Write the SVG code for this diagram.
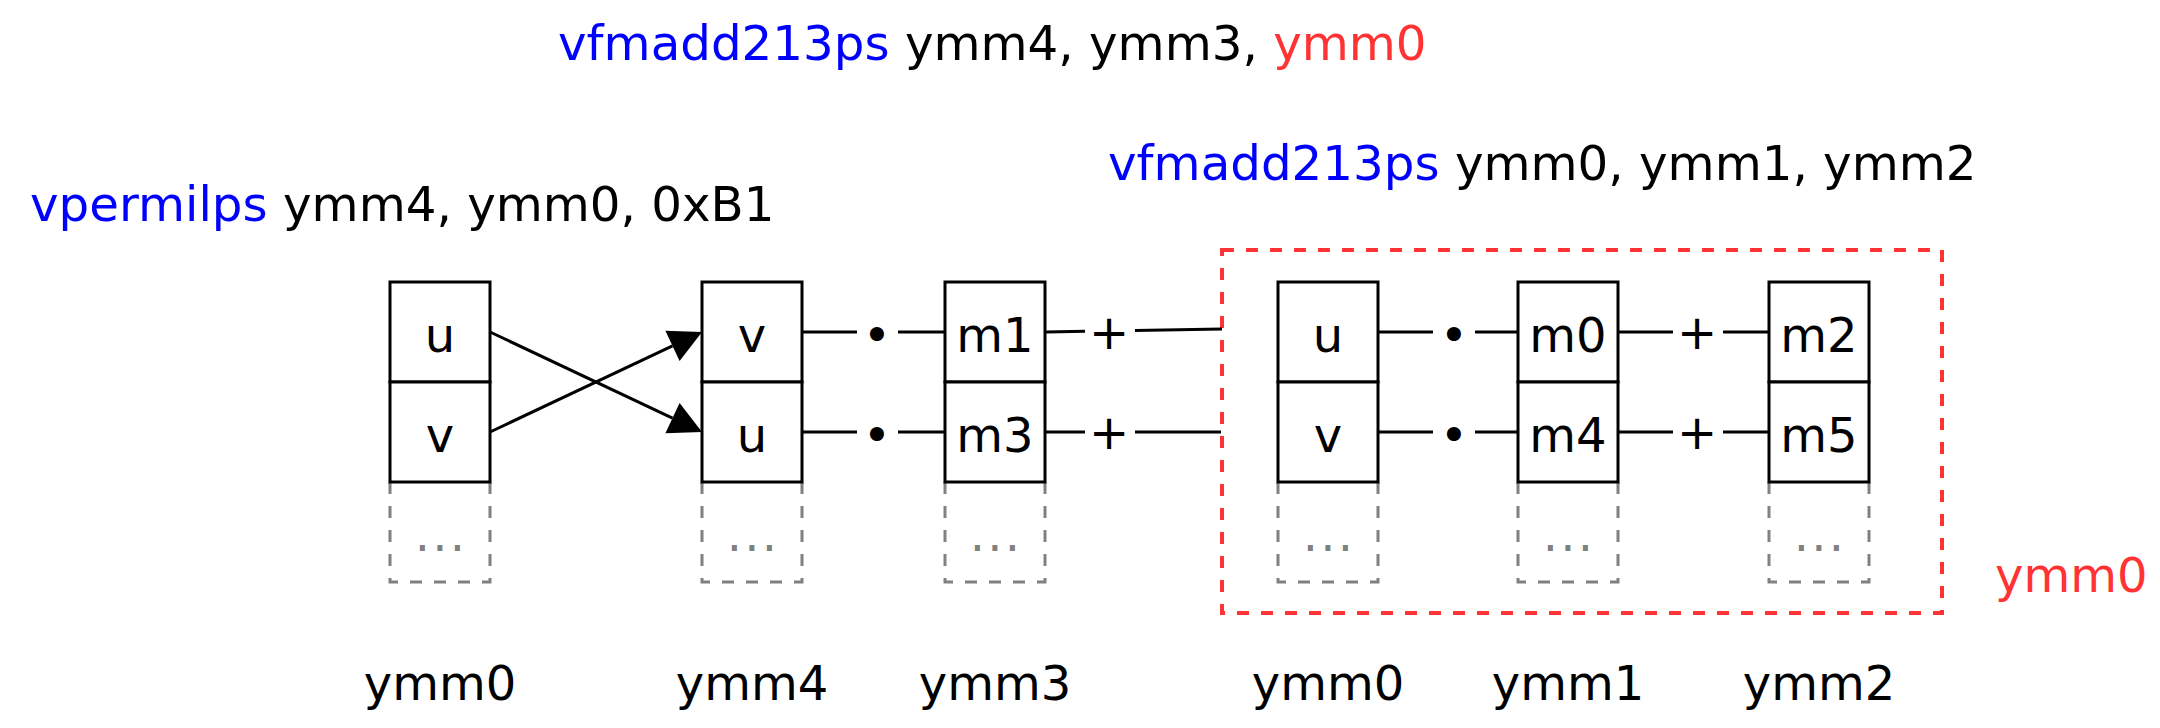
<svg xmlns="http://www.w3.org/2000/svg" width="2160" height="728" viewBox="0 0 2160 728">
<style>
.t{font-family:"DejaVu Sans",Verdana,sans-serif;font-size:48px;fill:#000}
.w{font-size:48.3px}
.c{text-anchor:middle}
.blue{fill:#0000FF}
.red{fill:#FF3333}
.cell{fill:#fff;stroke:#000;stroke-width:3}
.more{fill:none;stroke:#808080;stroke-width:3;stroke-dasharray:12 12}
.dots{fill:#808080;letter-spacing:2.2px}
.edge{fill:none;stroke:#000;stroke-width:3}
.head{fill:#000;stroke:none}
.group{fill:none;stroke:#FF3333;stroke-width:4;stroke-dasharray:12 12}
</style>
<rect width="2160" height="728" fill="#fff"/>
<g id="titles">
<text class="t w" x="558" y="60"><tspan class="blue">vfmadd213ps</tspan> ymm4, ymm3, <tspan class="red">ymm0</tspan></text>
<text class="t w" x="1108" y="180"><tspan class="blue">vfmadd213ps</tspan> ymm0, ymm1, ymm2</text>
<text class="t w" x="30" y="221"><tspan class="blue">vpermilps</tspan> ymm4, ymm0, 0xB1</text>
</g>
<g id="result-group">
<rect class="group" x="1222" y="250" width="720" height="363"/>
<text class="t red" x="1995" y="592">ymm0</text>
</g>
<g id="reg-ymm0-src">
<path class="more" d="M390,482 V582 H490 V482"/>
<rect class="cell" x="390" y="282" width="100" height="100"/>
<rect class="cell" x="390" y="382" width="100" height="100"/>
<text class="t c" x="440" y="352">u</text>
<text class="t c" x="440" y="452">v</text>
<text class="t c dots" x="441" y="551">...</text>
<text class="t c" x="440" y="700">ymm0</text>
</g>
<g id="reg-ymm4">
<path class="more" d="M702,482 V582 H802 V482"/>
<rect class="cell" x="702" y="282" width="100" height="100"/>
<rect class="cell" x="702" y="382" width="100" height="100"/>
<text class="t c" x="752" y="352">v</text>
<text class="t c" x="752" y="452">u</text>
<text class="t c dots" x="753" y="551">...</text>
<text class="t c" x="752" y="700">ymm4</text>
</g>
<g id="reg-ymm3">
<path class="more" d="M945,482 V582 H1045 V482"/>
<rect class="cell" x="945" y="282" width="100" height="100"/>
<rect class="cell" x="945" y="382" width="100" height="100"/>
<text class="t c" x="995" y="352">m1</text>
<text class="t c" x="995" y="452">m3</text>
<text class="t c dots" x="996" y="551">...</text>
<text class="t c" x="995" y="700">ymm3</text>
</g>
<g id="reg-ymm0-dst">
<path class="more" d="M1278,482 V582 H1378 V482"/>
<rect class="cell" x="1278" y="282" width="100" height="100"/>
<rect class="cell" x="1278" y="382" width="100" height="100"/>
<text class="t c" x="1328" y="352">u</text>
<text class="t c" x="1328" y="452">v</text>
<text class="t c dots" x="1329" y="551">...</text>
<text class="t c" x="1328" y="700">ymm0</text>
</g>
<g id="reg-ymm1">
<path class="more" d="M1518,482 V582 H1618 V482"/>
<rect class="cell" x="1518" y="282" width="100" height="100"/>
<rect class="cell" x="1518" y="382" width="100" height="100"/>
<text class="t c" x="1568" y="352">m0</text>
<text class="t c" x="1568" y="452">m4</text>
<text class="t c dots" x="1569" y="551">...</text>
<text class="t c" x="1568" y="700">ymm1</text>
</g>
<g id="reg-ymm2">
<path class="more" d="M1769,482 V582 H1869 V482"/>
<rect class="cell" x="1769" y="282" width="100" height="100"/>
<rect class="cell" x="1769" y="382" width="100" height="100"/>
<text class="t c" x="1819" y="352">m2</text>
<text class="t c" x="1819" y="452">m5</text>
<text class="t c dots" x="1820" y="551">...</text>
<text class="t c" x="1819" y="700">ymm2</text>
</g>
<g id="connectors">
<path class="edge" d="M490,332 L672.5,418.1"/>
<polygon class="head" points="702,432 665.4,433.3 679.6,403"/>
<path class="edge" d="M490,432 L672.5,345.9"/>
<polygon class="head" points="702,332 679.6,361.1 665.4,330.8"/>
<path class="edge" d="M802,332 H857 M898,332 H945 M1046,332 L1085,331.3 M1135,330.5 L1222,329 M1377,332 H1433 M1475,332 H1518 M1618,332 H1673 M1723,332 H1769"/>
<path class="edge" d="M802,432 H857 M898,432 H945 M1046,432 H1085 M1135,432 H1221 M1377,432 H1433 M1475,432 H1518 M1618,432 H1673 M1723,432 H1769"/>
<text class="t c" x="877" y="352">•</text>
<text class="t c" x="877" y="452">•</text>
<text class="t c" x="1454" y="352">•</text>
<text class="t c" x="1454" y="452">•</text>
<text class="t c" x="1109" y="349">+</text>
<text class="t c" x="1109" y="449">+</text>
<text class="t c" x="1697" y="349">+</text>
<text class="t c" x="1697" y="449">+</text>
</g>
</svg>
